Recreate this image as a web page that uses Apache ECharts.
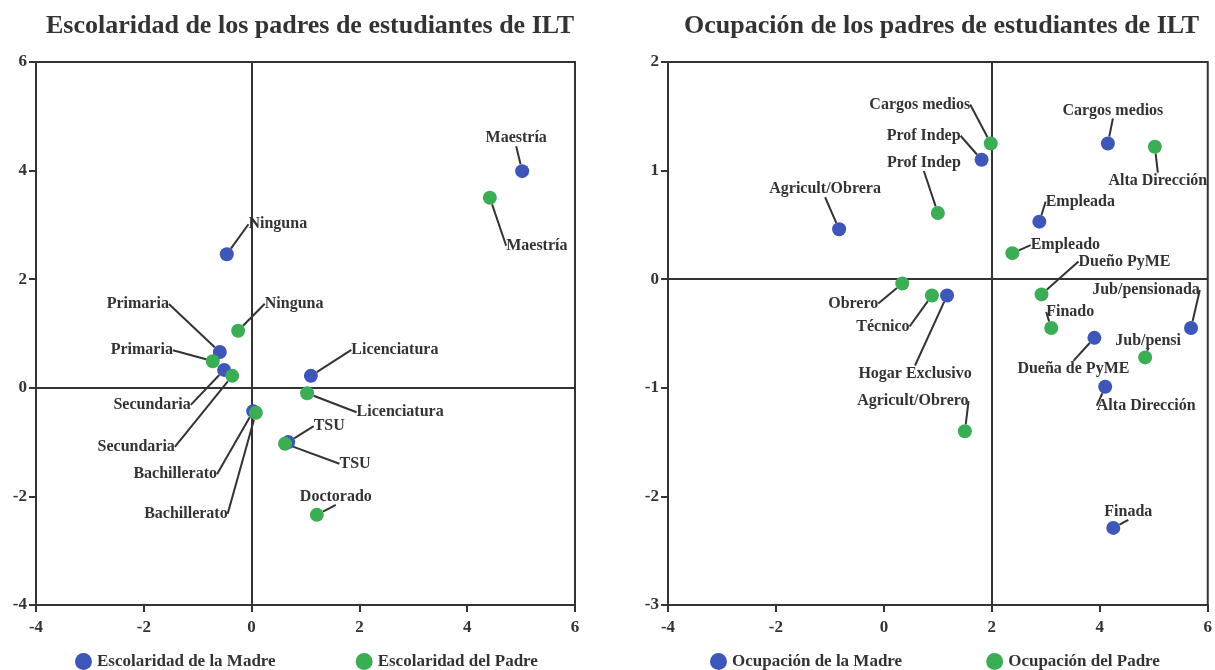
<!DOCTYPE html>
<html>
<head>
<meta charset="utf-8">
<script src="https://cdn.jsdelivr.net/npm/echarts@6/dist/echarts.min.js"></script>
<style>
  html, body { margin: 0; padding: 0; background: #fff; }
  #chart { width: 1215px; height: 670px; }
</style>
</head>
<body>
<div id="chart"></div>
<script>
// escolaridad
var madreEduNames = ['Ninguna', 'Primaria', 'Secundaria', 'Bachillerato', 'TSU', 'Licenciatura', 'Maestría'];
var madreEduX = [-0.46, -0.59, -0.51, 0.03, 0.68, 1.10, 5.02];
var madreEduY = [2.46, 0.66, 0.33, -0.43, -1.00, 0.22, 3.99];
var padreEduNames = ['Ninguna', 'Primaria', 'Secundaria', 'Bachillerato', 'TSU', 'Licenciatura', 'Maestría', 'Doctorado'];
var padreEduX = [-0.25, -0.72, -0.36, 0.08, 0.62, 1.03, 4.42, 1.21];
var padreEduY = [1.05, 0.49, 0.22, -0.46, -1.03, -0.10, 3.50, -2.34];

// ocupacion
var madreOcuNames = ['Agricult/Obrera', 'Prof Indep', 'Cargos medios', 'Empleada', 'Hogar Exclusivo', 'Jub/pensionada', 'Dueña de PyME', 'Alta Dirección', 'Finada'];
var madreOcuX = [-0.83, 1.81, 4.15, 2.88, 1.17, 5.69, 3.90, 4.10, 4.25];
var madreOcuY = [0.46, 1.10, 1.25, 0.53, -0.15, -0.45, -0.54, -0.99, -2.29];
var padreOcuNames = ['Cargos medios', 'Prof Indep', 'Alta Dirección', 'Empleado', 'Dueño PyME', 'Finado', 'Jub/pensi', 'Obrero', 'Técnico', 'Agricult/Obrero'];
var padreOcuX = [1.98, 1.00, 5.02, 2.38, 2.92, 3.10, 4.84, 0.34, 0.89, 1.50];
var padreOcuY = [1.25, 0.61, 1.22, 0.24, -0.14, -0.45, -0.72, -0.04, -0.15, -1.40];

// reference lines
var eduCross = [0, 0];
var ocuCross = [2, 0];

// label offsets (px) from each point
var madreEduOff = [[51, -30], [-82, -48], [-72, 35], [-78, 63], [41, -16], [84, -26], [-6, -33]];
var padreEduOff = [[56, -27], [-71, -11], [-96, 71], [-70, 101], [70, 20], [93, 19], [47, 48], [19, -18]];
var madreOcuOff = [[-14, -40], [-58, -24], [5, -33], [41, -20], [-32, 78], [-45, -38], [-21, 31], [41, 19], [15, -16]];
var padreOcuOff = [[-71, -39], [-14, -50], [3, 34], [53, -8], [83, -33], [19, -16], [3, -17], [-49, 20], [-49, 31], [-52, -30]];

var BLUE = '#3d56b8';
var GREEN = '#3aad55';
var INK = '#333';
var FONT = '"Liberation Serif", "DejaVu Serif", serif';

function pts(xs, ys, names) {
  return xs.map(function (x, i) { return { value: [x, ys[i]], name: names[i] }; });
}

function makeSeries(name, xs, ys, names, offs, color, idx, cross) {
  var s = {
    name: name,
    type: 'scatter',
    xAxisIndex: idx,
    yAxisIndex: idx,
    symbolSize: 14,
    itemStyle: { color: color, opacity: 1 },
    data: pts(xs, ys, names),
    z: 5,
    label: {
      show: true,
      position: 'inside',
      formatter: '{b}',
      color: INK,
      fontFamily: FONT,
      fontWeight: 'bold',
      fontSize: 16
    },
    labelLine: { show: true, lineStyle: { color: INK, width: 2 } },
    labelLayout: function (p) {
      var o = offs[p.dataIndex];
      return { dx: o[0], dy: o[1] };
    }
  };
  if (cross) {
    s.markLine = {
      silent: true,
      symbol: 'none',
      label: { show: false },
      lineStyle: { color: INK, width: 2, type: 'solid' },
      data: [{ xAxis: cross[0] }, { yAxis: cross[1] }],
      z: 1
    };
  }
  return s;
}

function xAx(idx) {
  return {
    gridIndex: idx, type: 'value', min: -4, max: 6, interval: 2,
    axisLine: { onZero: false, lineStyle: { color: INK, width: 2 } },
    axisTick: { show: true, length: 7, lineStyle: { color: INK, width: 2 } },
    axisLabel: { color: INK, fontFamily: FONT, fontWeight: 'bold', fontSize: 17, margin: 14 },
    splitLine: { show: false }
  };
}

function yAx(idx, min, max, step) {
  return {
    gridIndex: idx, type: 'value', min: min, max: max, interval: step,
    axisLine: { onZero: false, lineStyle: { color: INK, width: 2 } },
    axisTick: { show: true, length: 7, lineStyle: { color: INK, width: 2 } },
    axisLabel: { color: INK, fontFamily: FONT, fontWeight: 'bold', fontSize: 17, margin: 9 },
    splitLine: { show: false }
  };
}

var legendText = { color: INK, fontFamily: FONT, fontWeight: 'bold', fontSize: 17 };

var option = {
  backgroundColor: '#fff',
  animation: false,
  title: [
    { text: 'Escolaridad de los padres de estudiantes de ILT', left: 41, top: 8,
      textStyle: { color: INK, fontFamily: FONT, fontWeight: 'bold', fontSize: 26 } },
    { text: 'Ocupación de los padres de estudiantes de ILT', left: 679, top: 8,
      textStyle: { color: INK, fontFamily: FONT, fontWeight: 'bold', fontSize: 26 } }
  ],
  legend: [
    { data: ['Escolaridad de la Madre', 'Escolaridad del Padre'], left: 70, top: 648,
      icon: 'circle', itemWidth: 17, itemHeight: 17, itemGap: 80, textStyle: legendText },
    { data: ['Ocupación de la Madre', 'Ocupación del Padre'], left: 705, top: 648,
      icon: 'circle', itemWidth: 17, itemHeight: 17, itemGap: 84, textStyle: legendText }
  ],
  grid: [
    { left: 36, right: 640, top: 62, bottom: 65, show: true, borderColor: INK, borderWidth: 2, containLabel: false },
    { left: 668, right: 5, top: 62, bottom: 65, show: true, borderColor: INK, borderWidth: 2, containLabel: false }
  ],
  xAxis: [xAx(0), xAx(1)],
  yAxis: [yAx(0, -4, 6, 2), yAx(1, -3, 2, 1)],
  series: [
    makeSeries('Escolaridad de la Madre', madreEduX, madreEduY, madreEduNames, madreEduOff, BLUE, 0, eduCross),
    makeSeries('Escolaridad del Padre', padreEduX, padreEduY, padreEduNames, padreEduOff, GREEN, 0, null),
    makeSeries('Ocupación de la Madre', madreOcuX, madreOcuY, madreOcuNames, madreOcuOff, BLUE, 1, ocuCross),
    makeSeries('Ocupación del Padre', padreOcuX, padreOcuY, padreOcuNames, padreOcuOff, GREEN, 1, null)
  ]
};

var chart = echarts.init(document.getElementById('chart'), null, { renderer: 'canvas' });
chart.setOption(option);
</script>
</body>
</html>
